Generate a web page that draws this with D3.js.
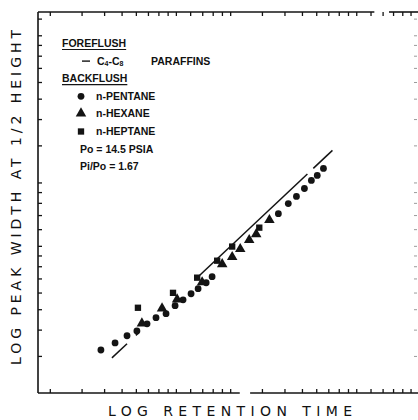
<!DOCTYPE html>
<html>
<head>
<meta charset="utf-8">
<script src="https://cdn.jsdelivr.net/npm/d3@7"></script>
<style>
  html, body { margin: 0; padding: 0; background: #fff; }
  svg { display: block; }
  text { font-family: "Liberation Sans", Arial, sans-serif; fill: #111; }
  .axis-title { font-family: "DejaVu Sans", sans-serif; }
</style>
</head>
<body>
<svg id="chart" width="418" height="420"></svg>
<script>
// Backflush peak widths (arbitrary log units): [retention time, peak width]
const pentane = [
  [1.92, 1.60], [2.30, 1.73], [2.68, 1.87], [3.04, 1.97], [3.46, 2.13],
  [3.88, 2.28], [4.41, 2.38], [4.95, 2.60], [5.48, 2.77], [6.07, 2.96],
  [6.64, 3.13], [7.36, 3.34], [7.94, 3.57], [18.5, 7.11], [21.0, 7.94],
  [23.3, 8.58], [25.8, 9.36], [28.2, 10.22], [30.4, 10.8], [32.9, 11.66]
];
const hexane = [
  [3.24, 2.13], [4.19, 2.51], [5.08, 2.77], [6.99, 3.34], [9.03, 4.07],
  [10.26, 4.40], [11.37, 4.80], [12.75, 5.30], [13.94, 5.65], [16.5, 6.59]
];
const heptane = [
  [3.08, 2.54], [4.82, 2.99], [6.56, 3.53], [8.47, 4.25], [10.26, 4.96], [14.5, 6.10]
];

// Foreflush C4-C8 paraffins: straight line on log-log paper, drawn broken
const foreflushEnds = [[2.21, 1.468], [36.9, 14.2]];
const foreflushRuns = [[2.21, 2.68], [3.0, 3.1], [6.4, 26.8], [28.9, 36.9]];

// Log paper rulings
const xDomain = [0.86, 110];
const yDomain = [1, 64.5];
const subTicks = [1, 1.5, 2, 2.5, 3, 3.5, 4, 4.5, 5, 6, 7, 8, 9];
const xTickValues = [1, 10, 100].flatMap(d => subTicks.map(s => +(s * d).toPrecision(3)))
  .filter(v => v >= xDomain[0] && v <= xDomain[1]);
const yTickValues = [1, 10].flatMap(d => subTicks.map(s => +(s * d).toPrecision(3)))
  .filter(v => v > yDomain[0] && v <= yDomain[1]);
// breaks in the printed frame lines
const bottomBreak = [11.3, 12.9];
const topBreak = [63, 76];

const legendLines = [
  { text: "FOREFLUSH", head: true },
  { text: "PARAFFINS", key: "line" },
  { text: "BACKFLUSH", head: true },
  { text: "n-PENTANE", key: "circle" },
  { text: "n-HEXANE", key: "triangle" },
  { text: "n-HEPTANE", key: "square" },
  { text: "Po = 14.5 PSIA" },
  { text: "Pi/Po = 1.67" }
];

const svg = d3.select("#chart");
const plotLeft = 38, plotRight = 418, plotTop = 12, plotBottom = 393;
const ink = "#141414";

const x = d3.scaleLog().domain(xDomain).range([plotLeft, plotRight]);
const y = d3.scaleLog().domain(yDomain).range([plotBottom, plotTop]);

// frame lines with their breaks
const frame = svg.append("g").attr("stroke", ink).attr("stroke-width", 1.6).attr("fill", "none");
frame.append("line").attr("x1", plotLeft).attr("x2", plotLeft).attr("y1", plotTop).attr("y2", plotBottom);
frame.append("line").attr("x1", plotLeft).attr("x2", x(bottomBreak[0])).attr("y1", plotBottom).attr("y2", plotBottom);
frame.append("line").attr("x1", x(bottomBreak[1])).attr("x2", plotRight).attr("y1", plotBottom).attr("y2", plotBottom);
frame.append("line").attr("x1", plotLeft).attr("x2", x(topBreak[0])).attr("y1", plotTop).attr("y2", plotTop);
frame.append("line").attr("x1", x(topBreak[1])).attr("x2", plotRight).attr("y1", plotTop).attr("y2", plotTop);

// inward ticks on all sides
function styleAxis(g, color, width) {
  g.select(".domain").remove();
  g.selectAll(".tick line").attr("stroke", color).attr("stroke-width", width);
  g.selectAll(".tick text").remove();
}
svg.append("g").attr("transform", `translate(0,${plotBottom})`)
  .call(d3.axisBottom(x).tickValues(xTickValues).tickSize(-4).tickFormat(""))
  .call(g => styleAxis(g, ink, 1.3));
svg.append("g").attr("transform", `translate(0,${plotTop})`)
  .call(d3.axisTop(x).tickValues(xTickValues).tickSize(-4).tickFormat(""))
  .call(g => styleAxis(g, ink, 1.3));
svg.append("g").attr("transform", `translate(${plotLeft},0)`)
  .call(d3.axisLeft(y).tickValues(yTickValues).tickSize(-4).tickFormat(""))
  .call(g => styleAxis(g, ink, 1.3));
svg.append("g").attr("transform", `translate(${plotRight - 1},0)`)
  .call(d3.axisRight(y).tickValues(yTickValues).tickSize(-3).tickFormat(""))
  .call(g => styleAxis(g, "#9a9a9a", 1));

// foreflush line
const slope = Math.log(foreflushEnds[1][1] / foreflushEnds[0][1]) /
              Math.log(foreflushEnds[1][0] / foreflushEnds[0][0]);
const fit = t => foreflushEnds[0][1] * Math.pow(t / foreflushEnds[0][0], slope);
const lineGen = d3.line().x(d => x(d)).y(d => y(fit(d)));
svg.append("g").selectAll("path").data(foreflushRuns).join("path")
  .attr("d", d => lineGen(d))
  .attr("fill", "none").attr("stroke", ink).attr("stroke-width", 1.5);

// backflush points
const pts = svg.append("g").attr("fill", ink);
pts.selectAll(".pent").data(pentane).join("circle")
  .attr("cx", d => x(d[0])).attr("cy", d => y(d[1])).attr("r", 3.4);
const tri = d3.symbol().type(d3.symbolTriangle).size(48);
pts.selectAll(".hex").data(hexane).join("path")
  .attr("d", tri).attr("transform", d => `translate(${x(d[0])},${y(d[1]) - 0.5})`);
const sq = d3.symbol().type(d3.symbolSquare).size(40);
pts.selectAll(".hep").data(heptane).join("path")
  .attr("d", sq).attr("transform", d => `translate(${x(d[0])},${y(d[1])})`);

// legend block
const lg = svg.append("g").attr("font-size", 10.5).attr("font-weight", "bold");
const rowY = i => 47 + i * 17.6;
legendLines.forEach((row, i) => {
  const yy = rowY(i);
  if (row.head) {
    const t = lg.append("text").attr("x", 62).attr("y", yy).text(row.text);
    const w = t.node().getComputedTextLength();
    lg.append("line").attr("x1", 62).attr("x2", 62 + w).attr("y1", yy + 2.5).attr("y2", yy + 2.5)
      .attr("stroke", ink).attr("stroke-width", 1.2);
  } else if (row.key === "line") {
    lg.append("line").attr("x1", 82).attr("x2", 90).attr("y1", yy - 3.5).attr("y2", yy - 3.5)
      .attr("stroke", ink).attr("stroke-width", 1.4);
    const c = lg.append("text").attr("x", 97).attr("y", yy);
    c.append("tspan").text("C");
    c.append("tspan").attr("font-size", 7).attr("dy", 1).text("4");
    c.append("tspan").attr("dy", -1).text("-C");
    c.append("tspan").attr("font-size", 7).attr("dy", 1).text("8");
    lg.append("text").attr("x", 151).attr("y", yy).text(row.text);
  } else {
    if (row.key === "circle") lg.append("circle").attr("cx", 81).attr("cy", yy - 3.5).attr("r", 3.4).attr("fill", ink);
    if (row.key === "triangle") lg.append("path").attr("d", tri).attr("transform", `translate(81,${yy - 4})`).attr("fill", ink);
    if (row.key === "square") lg.append("path").attr("d", sq).attr("transform", `translate(81,${yy - 3.5})`).attr("fill", ink);
    lg.append("text").attr("x", row.key ? 96 : 80).attr("y", yy).text(row.text);
  }
});

// axis titles
svg.append("text").attr("class", "axis-title").attr("x", 108).attr("y", 416)
  .attr("font-size", 14).attr("textLength", 244).attr("lengthAdjust", "spacing")
  .text("LOG  RETENTION  TIME");
svg.append("text").attr("class", "axis-title").attr("transform", "translate(21,365) rotate(-90)")
  .attr("font-size", 14).attr("textLength", 335).attr("lengthAdjust", "spacing")
  .text("LOG  PEAK  WIDTH  AT  1/2  HEIGHT");
</script>
</body>
</html>
